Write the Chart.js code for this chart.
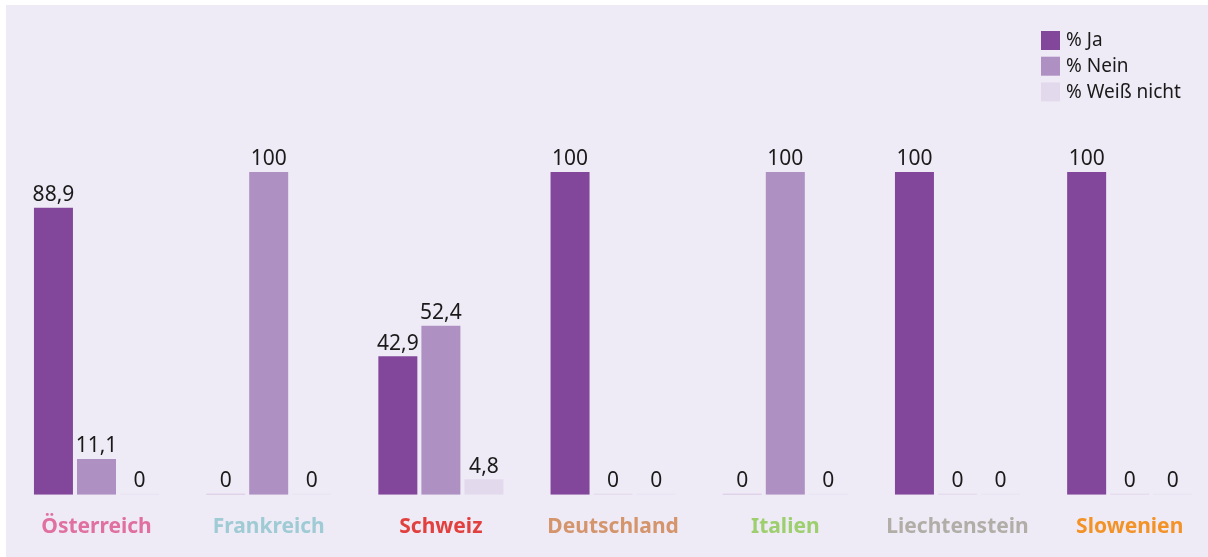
<!DOCTYPE html>
<html>
<head>
<meta charset="utf-8">
<script src="https://cdn.jsdelivr.net/npm/chart.js@4.4.1/dist/chart.umd.min.js"></script>
<style>
  html, body { margin: 0; padding: 0; background: #ffffff; overflow: hidden; }
  #panel { position: absolute; left: 6px; top: 5px; width: 1202px; height: 552px; overflow: hidden; background: #efebf6; }
  #chart { position: absolute; left: 0; top: 0; }
</style>
</head>
<body>
<div id="panel"><canvas id="chart" width="1214" height="556"></canvas></div>
<script>
var countries = ['Österreich', 'Frankreich', 'Schweiz', 'Deutschland', 'Italien', 'Liechtenstein', 'Slowenien'];
var countryColors = ['#e0709f', '#9fcbd4', '#e2403f', '#d4946c', '#9dcf6f', '#b1aea8', '#f39327'];

var seriesNames = ['% Ja', '% Nein', '% Weiß nicht'];
var seriesColors = ['#82479a', '#ae90c3', '#e3d9ed'];
var zeroColors = ['#d3c0df', '#ddd3e8', '#e6e0ef'];

var yesValues = [88.9, 0, 42.9, 100, 0, 100, 100];
var noValues = [11.1, 100, 52.4, 0, 100, 0, 0];
var dontKnowValues = [0, 0, 4.8, 0, 0, 0, 0];

var FONT = '"Noto Sans", "Open Sans", sans-serif';

function makeDataset(i, values) {
  return {
    label: seriesNames[i],
    data: values,
    backgroundColor: function(ctx) { return ctx.raw === 0 ? zeroColors[i] : seriesColors[i]; },
    minBarLength: 1,
    categoryPercentage: 0.75,
    barPercentage: 0.906
  };
}

// value labels above each bar
var valueLabels = {
  id: 'valueLabels',
  afterDatasetsDraw: function(chart) {
    var ctx = chart.ctx;
    ctx.save();
    ctx.font = '21px ' + FONT;
    ctx.fillStyle = '#1a1a1a';
    ctx.textAlign = 'center';
    ctx.textBaseline = 'bottom';
    chart.data.datasets.forEach(function(ds, di) {
      chart.getDatasetMeta(di).data.forEach(function(bar, idx) {
        var txt = String(ds.data[idx]).replace('.', ',');
        ctx.fillText(txt, bar.x, bar.y - 2);
      });
    });
    ctx.restore();
  }
};

// vertical legend top right
var boxLegend = {
  id: 'boxLegend',
  afterDraw: function(chart) {
    var ctx = chart.ctx;
    ctx.save();
    ctx.font = '19px ' + FONT;
    ctx.textBaseline = 'middle';
    ctx.textAlign = 'left';
    chart.data.datasets.forEach(function(ds, i) {
      var y = 26 + i * 25.7;
      ctx.fillStyle = seriesColors[i];
      ctx.fillRect(1035, y, 19, 19);
      ctx.fillStyle = '#1a1a1a';
      ctx.fillText(ds.label, 1060, y + 10);
    });
    ctx.restore();
  }
};

new Chart(document.getElementById('chart'), {
  type: 'bar',
  data: {
    labels: countries,
    datasets: [
      makeDataset(0, yesValues),
      makeDataset(1, noValues),
      makeDataset(2, dontKnowValues)
    ]
  },
  options: {
    responsive: false,
    animation: false,
    layout: { padding: { left: 4.4, right: 4.2, top: 167, bottom: 1 } },
    scales: {
      x: {
        grid: { display: false, drawTicks: false },
        border: { display: false },
        ticks: {
          autoSkip: false,
          maxRotation: 0,
          padding: 20,
          font: { family: FONT, size: 21, weight: 'bold' },
          color: function(c) { return countryColors[c.index]; }
        }
      },
      y: { display: false, min: 0, max: 100 }
    },
    plugins: { legend: { display: false }, tooltip: { enabled: false } }
  },
  plugins: [valueLabels, boxLegend]
});
</script>
</body>
</html>
